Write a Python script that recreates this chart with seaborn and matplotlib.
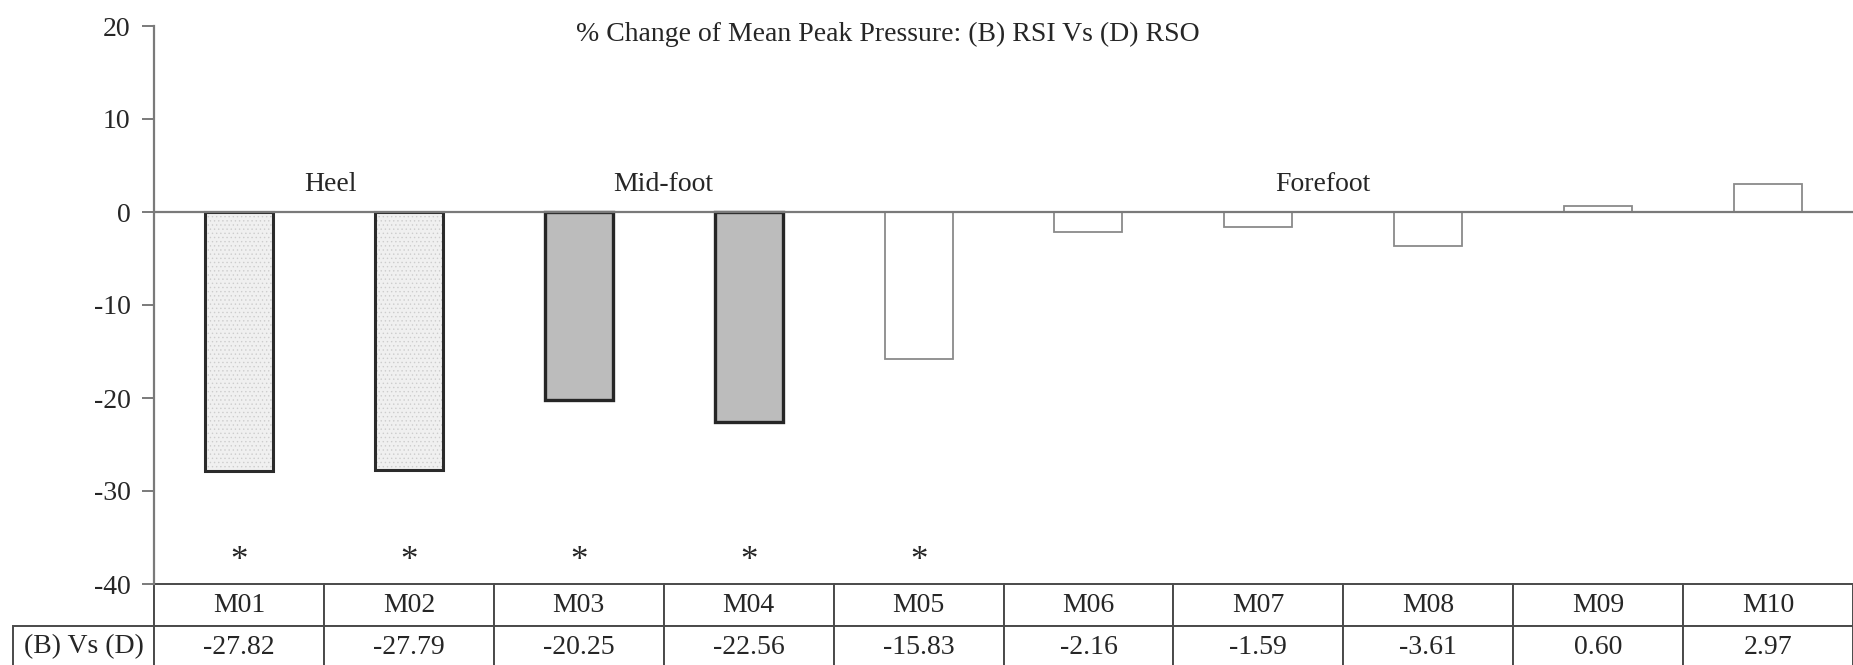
import numpy as np
import pandas as pd
import matplotlib
matplotlib.use("Agg")
import matplotlib.pyplot as plt
import matplotlib.colors as mcolors
import seaborn as sns

# ==========================================
# DATA
# ==========================================

masks = ["M01", "M02", "M03", "M04", "M05", "M06", "M07", "M08", "M09", "M10"]
change = [-27.82, -27.79, -20.25, -22.56, -15.83, -2.16, -1.59, -3.61, 0.60, 2.97]
region = ["Heel", "Heel", "Mid-foot", "Mid-foot", "Forefoot",
          "Forefoot", "Forefoot", "Forefoot", "Forefoot", "Forefoot"]
significant = [True, True, True, True, True, False, False, False, False, False]

region_labels = ["Heel", "Mid-foot", "Forefoot"]
region_label_x = [0.54, 2.5, 6.38]
row_label = "(B) Vs (D)"
title = "% Change of Mean Peak Pressure: (B) RSI Vs (D) RSO"

df = pd.DataFrame({"mask": masks, "change": change, "region": region})

# ==========================================
# STYLE
# ==========================================

sns.set_style("white")
plt.rcParams["font.family"] = ["Liberation Serif", "DejaVu Serif"]
plt.rcParams["axes.unicode_minus"] = False
plt.rcParams["hatch.linewidth"] = 0.5
txt = "#262626"
axis_grey = "#7a7a7a"
hatch_grey = "#cdcdcd"
fs = 20

fill = {"Heel": "#f0f0f0", "Mid-foot": "#bcbcbc", "Forefoot": "#ffffff"}
edge = {"Heel": "#2b2b2b", "Mid-foot": "#262626", "Forefoot": "#8a8a8a"}
lw = {"Heel": 2.2, "Mid-foot": 2.4, "Forefoot": 1.3}

fig = plt.figure(figsize=(18.53, 6.65), dpi=100)
ax = fig.add_axes([154 / 1853, 81 / 665, 1 - 154 / 1853, 558 / 665])

sns.barplot(
    data=df,
    x="mask",
    y="change",
    hue="mask",
    palette=[fill[r] for r in region],
    width=0.4,
    legend=False,
    ax=ax,
    saturation=1,
)

for patch, r in zip(ax.patches, region):
    patch.set_edgecolor(edge[r])
    patch.set_linewidth(lw[r])
    if r == "Heel":
        patch.set_hatch("....")
        # light stipple, not the dark edge colour
        if hasattr(patch, "set_hatchcolor"):
            patch.set_hatchcolor(hatch_grey)
        else:
            patch._hatch_color = mcolors.to_rgba(hatch_grey)
    patch.set_zorder(3)

ax.axhline(0, color=axis_grey, lw=1.6, zorder=4)

ax.set_ylim(-40, 20)
ax.set_xlim(-0.5, len(masks) - 0.5)
ax.set_yticks([-40, -30, -20, -10, 0, 10, 20])
ax.set_xticks([])
ax.set_xlabel("")
ax.set_ylabel("")
ax.tick_params(axis="y", direction="out", length=9, width=1.4,
               color=axis_grey, labelsize=fs, labelcolor=txt, pad=8, left=True)

for s in ["top", "right"]:
    ax.spines[s].set_visible(False)
ax.spines["left"].set_color(axis_grey)
ax.spines["left"].set_linewidth(1.6)
ax.spines["bottom"].set_visible(False)

# significance stars
for i, sig in enumerate(significant):
    if sig:
        ax.text(i, -37.6, "*", ha="center", va="center", fontsize=fs + 5,
                color=txt)

# region labels
for lab, xpos in zip(region_labels, region_label_x):
    ax.text(xpos, 3.0, lab, ha="center", va="center", fontsize=fs, color=txt)

ax.text(0.432, 0.985, title, transform=ax.transAxes, ha="center", va="center",
        fontsize=fs, color=txt)

# ==========================================
# DATA TABLE UNDER AXIS
# ==========================================

cell_text = [[""] + masks, [row_label] + ["%.2f" % v for v in change]]
lab_w = 141 / 1699
col_w = [lab_w] + [1 / len(masks)] * len(masks)
row_h = 42 / 558

tbl = ax.table(
    cellText=cell_text,
    colWidths=col_w,
    cellLoc="center",
    bbox=[-lab_w, -2 * row_h, 1 + lab_w, 2 * row_h],
)
tbl.auto_set_font_size(False)
tbl.set_fontsize(fs)
for (r, c), cell in tbl.get_celld().items():
    cell.set_edgecolor("#4a4a4a")
    cell.set_linewidth(1.4)
    cell.get_text().set_color(txt)
    if r == 0 and c == 0:
        cell.visible_edges = "R"
tbl.set_clip_on(False)

fig.savefig("out.png", dpi=100)
